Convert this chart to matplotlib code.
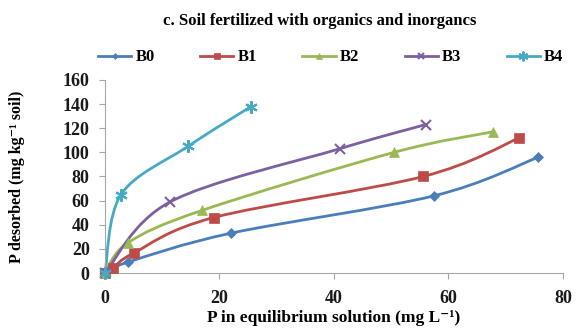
import numpy as np
import matplotlib
matplotlib.use("Agg")
import matplotlib.pyplot as plt
from matplotlib.path import Path
from matplotlib.patches import PathPatch
from matplotlib.lines import Line2D

series = ["B0", "B1", "B2", "B3", "B4"]
x_vals = {
    "B0": [0, 4.0, 22.0, 57.5, 75.7],
    "B1": [0, 1.4, 5.0, 19.0, 55.6, 72.4],
    "B2": [0, 4.0, 17.0, 50.5, 67.7],
    "B3": [0, 11.4, 41.0, 56.0],
    "B4": [0, 2.8, 14.5, 25.5],
}
y_vals = {
    "B0": [0, 9, 33, 64, 96],
    "B1": [0, 4, 16.5, 46, 80, 112],
    "B2": [0, 25, 52, 100, 117],
    "B3": [0, 59, 103, 123],
    "B4": [0, 65, 105, 138],
}
colors = {"B0": "#4a7ebb", "B1": "#be4b48", "B2": "#98b954", "B3": "#7d60a0", "B4": "#46aac5"}
markers = {"B0": "D", "B1": "s", "B2": "^", "B3": "x", "B4": (6, 2, 0)}
msize = {"B0": 5, "B1": 7, "B2": 7, "B3": 7, "B4": 9}
x_ticks = [0, 20, 40, 60, 80]
y_ticks = [0, 20, 40, 60, 80, 100, 120, 140, 160]

plt.rcParams['font.family'] = ['Liberation Serif', 'DejaVu Serif']
plt.rcParams['font.weight'] = 'bold'

fig = plt.figure(figsize=(5.76, 3.36), dpi=100)
ax = fig.add_axes([0.1823, 0.1875, 0.795, 0.5745])

def smooth_path(xs, ys, t=1/6):
    # Catmull-Rom style cubic Bezier through the data points
    pts = np.column_stack([xs, ys]).astype(float)
    n = len(pts)
    verts = [pts[0]]
    codes = [Path.MOVETO]
    for i in range(n - 1):
        p0 = pts[i - 1] if i > 0 else pts[i]
        p1 = pts[i]
        p2 = pts[i + 1]
        p3 = pts[i + 2] if i + 2 < n else pts[i + 1]
        c1 = p1 + (p2 - p0) * t
        c2 = p2 - (p3 - p1) * t
        verts += [c1, c2, p2]
        codes += [Path.CURVE4] * 3
    return Path(verts, codes)

handles = []
for s in series:
    xs, ys = x_vals[s], y_vals[s]
    ax.add_patch(PathPatch(smooth_path(xs, ys), fill=False, edgecolor=colors[s], lw=2,
                           zorder=2, clip_on=False))
    mk = markers[s]
    lw_m = 1.5 if s in ("B3", "B4") else 0.5
    ax.plot(xs, ys, linestyle='none', marker=mk, ms=msize[s], color=colors[s],
            mec=colors[s], mew=lw_m, zorder=3, clip_on=False)
    handles.append(Line2D([], [], color=colors[s], lw=2, marker=mk, ms=msize[s] - 2,
                          mec=colors[s], mew=lw_m, label=s))

ax.set_xlim(0, 80)
ax.set_ylim(0, 160)
ax.set_xticks(x_ticks)
ax.set_yticks(y_ticks)
for sp in ["top", "right"]:
    ax.spines[sp].set_visible(False)
for sp in ["left", "bottom"]:
    ax.spines[sp].set_color("#a6a6a6")
ax.tick_params(axis='both', colors="#a6a6a6", labelcolor="#1a1a1a", labelsize=13, length=4, direction='out')
ax.tick_params(axis='y', pad=7)
ax.tick_params(axis='x', pad=8)
for lab in ax.get_xticklabels() + ax.get_yticklabels():
    lab.set_fontweight('bold')

ax.set_xlabel("P in equilibrium solution (mg L\u207b\u00b9)", fontsize=12.5, fontweight='bold')
ax.set_ylabel("P desorbed (mg kg\u207b\u00b9 soil)", fontsize=11.5, fontweight='bold')
ax.xaxis.set_label_coords(0.5, -0.19)
ax.yaxis.set_label_coords(-0.175, 0.5)

fig.text(0.555, 0.937, "c. Soil fertilized with organics and inorgancs", ha='center', va='center',
         fontsize=12, fontweight='bold')

fig.legend(handles=handles, loc='center left', bbox_to_anchor=(0.150, 0.829), ncol=5, frameon=False,
           handlelength=2.0, columnspacing=2.72, handletextpad=0.25, borderpad=0.2,
           prop={'weight': 'bold', 'size': 12})

fig.savefig("out.png", dpi=100)
